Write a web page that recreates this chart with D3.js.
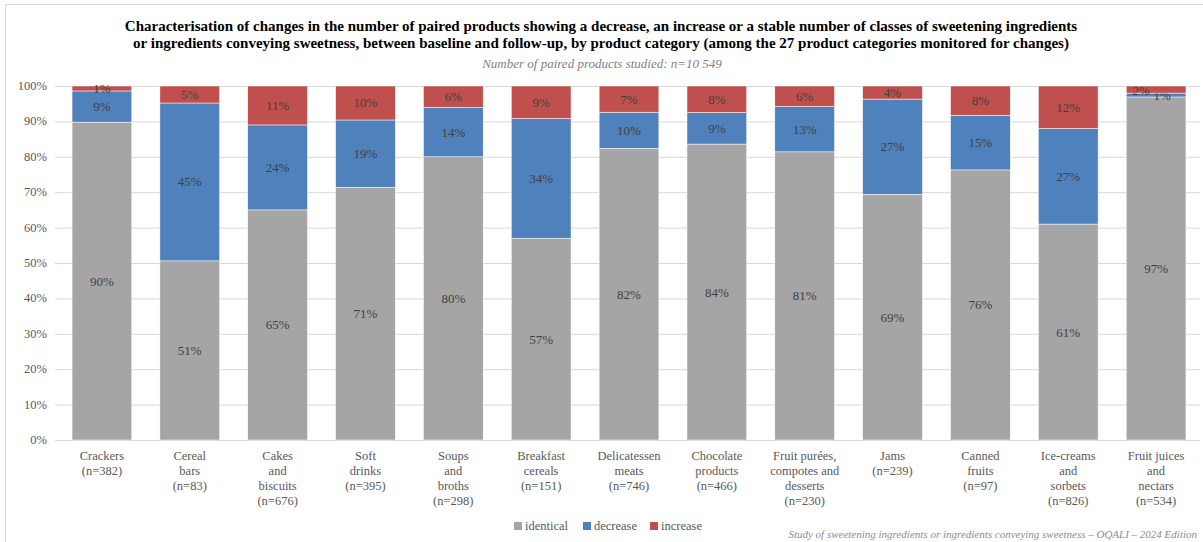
<!DOCTYPE html>
<html lang="en">
<head>
<meta charset="UTF-8"/>
<title>Sweetening ingredients - stacked bars</title>
<script src="https://d3js.org/d3.v7.min.js"></script>
<style>
	body { margin: 0; background: #fff; }
	text { font-family: "Liberation Serif", "DejaVu Serif", serif; }
	.grid line { stroke: #d9d9d9; }
	.grid path { stroke: none; }
</style>
</head>
<body>
<div id="chart"></div>
<script>
// categories, two lines or more each (split on "|")
var categories = ["Crackers|(n=382)", "Cereal|bars|(n=83)", "Cakes|and|biscuits|(n=676)",
	"Soft|drinks|(n=395)", "Soups|and|broths|(n=298)", "Breakfast|cereals|(n=151)",
	"Delicatessen|meats|(n=746)", "Chocolate|products|(n=466)",
	"Fruit purées,|compotes and|desserts|(n=230)", "Jams|(n=239)", "Canned|fruits|(n=97)",
	"Ice-creams|and|sorbets|(n=826)", "Fruit juices|and|nectars|(n=534)"];
var identical = [89.8, 50.6, 65.0, 71.4, 80.0, 57.0, 82.4, 83.6, 81.4, 69.4, 76.3, 61.0, 96.9];
var decrease  = [8.8, 44.6, 24.0, 19.0, 14.0, 33.8, 10.2, 8.9, 12.8, 26.9, 15.4, 27.0, 1.1];
var increase  = [1.4, 4.8, 11.0, 9.6, 6.0, 9.2, 7.4, 7.5, 5.8, 3.7, 8.3, 12.0, 2.0];
var seriesNames = ["identical", "decrease", "increase"];
var yTicks = [0, 0.1, 0.2, 0.3, 0.4, 0.5, 0.6, 0.7, 0.8, 0.9, 1];

var w = 1203, h = 542;
var colors = {identical: "#a5a5a5", decrease: "#4f81bd", increase: "#c0504d"};

var rows = categories.map(function(c, i) {
	return {cat: c, identical: identical[i], decrease: decrease[i], increase: increase[i]};
});
var series = d3.stack().keys(seriesNames).offset(d3.stackOffsetExpand)(rows);

var svg = d3.select("#chart").append("svg").attr("width", w).attr("height", h);

// outer frame
svg.append("rect").attr("x", 5.5).attr("y", 4.5).attr("width", w).attr("height", h)
	.attr("fill", "none").attr("stroke", "#d9d9d9");

var xScale = d3.scaleBand().domain(d3.range(categories.length))
	.range([58, 1200]).paddingInner(0.32).paddingOuter(0.16);
var yScale = d3.scaleLinear().domain([0, 1]).range([440, 86]);

// gridlines
svg.append("g").attr("class", "grid")
	.attr("transform", "translate(55,0)")
	.call(d3.axisLeft(yScale).tickValues(yTicks).tickSize(-1145).tickFormat(""));

// y tick labels
svg.append("g").selectAll("text").data(yTicks).enter().append("text")
	.attr("x", 47).attr("y", function(d) { return yScale(d) + 4; })
	.attr("text-anchor", "end").attr("font-size", 12.5).attr("fill", "#595959")
	.text(d3.format(".0%"));

var groups = svg.selectAll("g.series").data(series).enter().append("g")
	.attr("class", "series")
	.attr("fill", function(d) { return colors[d.key]; });

groups.selectAll("rect").data(function(d) { return d; }).enter().append("rect")
	.attr("x", function(d, i) { return xScale(i); })
	.attr("y", function(d) { return yScale(d[1]); })
	.attr("height", function(d) { return yScale(d[0]) - yScale(d[1]); })
	.attr("width", xScale.bandwidth())
	.attr("stroke", "#fff").attr("stroke-width", 0.5);

// value labels (the last bar has two thin segments, so those are nudged apart)
groups.each(function(s) {
	d3.select(this).selectAll("text").data(s).enter().append("text")
		.attr("x", function(d, i) {
			var dx = 0;
			if (i == 12 && d[1] - d[0] < 0.025) dx = s.key == "increase" ? -15 : 6;
			return xScale(i) + xScale.bandwidth() / 2 + dx;
		})
		.attr("y", function(d, i) {
			var dy = (i == 12 && s.key == "increase") ? 1 : 0;
			return (yScale(d[0]) + yScale(d[1])) / 2 + 4.5 + dy;
		})
		.attr("text-anchor", "middle").attr("font-size", 13).attr("fill", "#404040")
		.text(function(d) { return Math.round(d.data[s.key]) + "%"; });
});

// x labels
var xl = svg.append("g").selectAll("text").data(categories).enter().append("text")
	.attr("text-anchor", "middle").attr("font-size", 12.5).attr("fill", "#595959")
	.attr("x", function(d, i) { return xScale(i) + xScale.bandwidth() / 2; })
	.attr("y", 460);
xl.selectAll("tspan").data(function(d) { return d.split("|"); }).enter().append("tspan")
	.attr("x", function() { return d3.select(this.parentNode).attr("x"); })
	.attr("dy", function(d, i) { return i == 0 ? 0 : 15; })
	.text(function(d) { return d; });

// title
svg.append("text").attr("x", 601).attr("y", 31).attr("text-anchor", "middle")
	.attr("font-size", 15).attr("font-weight", "bold").attr("fill", "#000")
	.text("Characterisation of changes in the number of paired products showing a decrease, an increase or a stable number of classes of sweetening ingredients");
svg.append("text").attr("x", 601).attr("y", 48).attr("text-anchor", "middle")
	.attr("font-size", 15).attr("font-weight", "bold").attr("fill", "#000")
	.text("or ingredients conveying sweetness, between baseline and follow-up, by product category (among the 27 product categories monitored for changes)");
svg.append("text").attr("x", 602).attr("y", 68).attr("text-anchor", "middle")
	.attr("font-size", 13).attr("font-style", "italic").attr("fill", "#7f7f7f")
	.text("Number of paired products studied: n=10 549");

// legend
var legendX = [514, 583, 650];
var lg = svg.append("g").selectAll("g").data(seriesNames).enter().append("g")
	.attr("transform", function(d, i) { return "translate(" + legendX[i] + ",522)"; });
lg.append("rect").attr("width", 8).attr("height", 8).attr("fill", function(d) { return colors[d]; });
lg.append("text").attr("x", 11).attr("y", 8).attr("font-size", 12.5).attr("fill", "#595959")
	.text(function(d) { return d; });

// source
svg.append("text").attr("x", 1197).attr("y", 538).attr("text-anchor", "end")
	.attr("font-size", 11).attr("font-style", "italic").attr("fill", "#8c8c8c")
	.text("Study of sweetening ingredients or ingredients conveying sweetness – OQALI – 2024 Edition");
</script>
</body>
</html>
